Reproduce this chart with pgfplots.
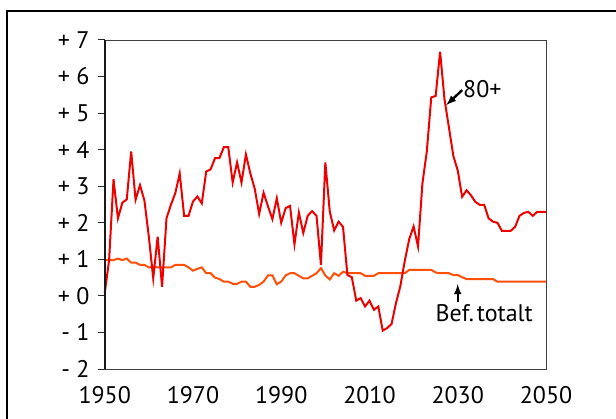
\documentclass[border=0pt]{standalone}
\usepackage{pgfplots}
\pgfplotsset{compat=1.18}
\usepackage{pgfplotstable}
\usepackage{fontspec}
\setmainfont{PT Sans}
\definecolor{redline}{RGB}{236,0,0}
\definecolor{orangeline}{RGB}{255,80,10}

\pgfplotstableread{
year val
1950 0.07
1951 0.98
1952 3.19
1953 2.12
1954 2.55
1955 2.64
1956 3.95
1957 2.63
1958 3.03
1959 2.61
1960 1.62
1961 0.48
1962 1.62
1963 0.25
1964 2.12
1965 2.49
1966 2.81
1967 3.35
1968 2.19
1969 2.19
1970 2.58
1971 2.72
1972 2.53
1973 3.40
1974 3.46
1975 3.77
1976 3.77
1977 4.07
1978 4.07
1979 3.10
1980 3.65
1981 3.10
1982 3.87
1983 3.35
1984 2.93
1985 2.24
1986 2.82
1987 2.45
1988 2.10
1989 2.67
1990 2.00
1991 2.40
1992 2.46
1993 1.41
1994 2.28
1995 1.72
1996 2.19
1997 2.32
1998 2.19
1999 0.85
2000 3.65
2001 2.31
2002 1.79
2003 2.03
2004 1.89
2005 0.57
2006 0.51
2007 -0.13
2008 -0.06
2009 -0.29
2010 -0.13
2011 -0.38
2012 -0.29
2013 -0.95
2014 -0.88
2015 -0.77
2016 -0.20
2017 0.27
2018 0.96
2019 1.55
2020 1.90
2021 1.35
2022 3.08
2023 3.96
2024 5.43
2025 5.47
2026 6.68
2027 5.38
2028 4.61
2029 3.83
2030 3.43
2031 2.71
2032 2.89
2033 2.75
2034 2.57
2035 2.49
2036 2.49
2037 2.12
2038 2.03
2039 2.00
2040 1.78
2041 1.78
2042 1.78
2043 1.89
2044 2.19
2045 2.27
2046 2.30
2047 2.19
2048 2.30
2049 2.30
2050 2.30
}\eighty

\pgfplotstableread{
year val
1950 0.98
1951 0.98
1952 0.98
1953 1.02
1954 0.98
1955 1.02
1956 0.91
1957 0.91
1958 0.85
1959 0.85
1960 0.78
1961 0.80
1962 0.78
1963 0.78
1964 0.78
1965 0.78
1966 0.85
1967 0.85
1968 0.85
1969 0.78
1970 0.69
1971 0.74
1972 0.78
1973 0.62
1974 0.62
1975 0.50
1976 0.46
1977 0.39
1978 0.39
1979 0.33
1980 0.33
1981 0.39
1982 0.39
1983 0.25
1984 0.25
1985 0.30
1986 0.39
1987 0.56
1988 0.56
1989 0.32
1990 0.39
1991 0.56
1992 0.62
1993 0.62
1994 0.55
1995 0.48
1996 0.48
1997 0.55
1998 0.62
1999 0.76
2000 0.56
2001 0.45
2002 0.62
2003 0.55
2004 0.66
2005 0.62
2006 0.62
2007 0.62
2008 0.62
2009 0.55
2010 0.55
2011 0.55
2012 0.62
2013 0.62
2014 0.62
2015 0.62
2016 0.62
2017 0.62
2018 0.62
2019 0.71
2020 0.71
2021 0.71
2022 0.71
2023 0.71
2024 0.71
2025 0.64
2026 0.62
2027 0.62
2028 0.62
2029 0.57
2030 0.57
2031 0.51
2032 0.46
2033 0.46
2034 0.46
2035 0.46
2036 0.46
2037 0.46
2038 0.46
2039 0.39
2040 0.39
2041 0.39
2042 0.39
2043 0.39
2044 0.39
2045 0.39
2046 0.39
2047 0.39
2048 0.39
2049 0.39
2050 0.39
}\befolk

\begin{document}
\begin{tikzpicture}
% page = 616 x 418, axis origin at image px (104.7, 369)
\useasboundingbox (-104.7pt,-49pt) rectangle (511.3pt,369pt);
\draw[line width=2.5pt] (-97.7pt,-80pt) -- (-97.7pt,358pt) -- (560pt,358pt);
\begin{axis}[at={(0pt,0pt)},anchor=south west,scale only axis,
  width=441.3pt,height=329pt,
  xmin=1950,xmax=2050,ymin=-2,ymax=7,
  xtick={1950,1970,1990,2010,2030,2050},
  xticklabels={1950,1970,1990,2010,2030,2050},
  ytick={-2,-1,0,1,2,3,4,5,6,7},
  yticklabels={- 2,- 1,+ 0,+ 1,+ 2,+ 3,+ 4,+ 5,+ 6,+ 7},
  ytick pos=left,tick align=outside,major tick length=7pt,
  xtick style={draw=none},
  ytick style={line width=1pt,black!85},
  axis line style={line width=0.8pt,black!75},
  tick label style={font=\fontsize{24}{28}\selectfont},
  yticklabel style={inner sep=0pt,xshift=-8pt},
  xticklabel style={inner sep=0pt,yshift=-10pt},
  clip=false]
\addplot[orangeline,line width=2pt] table[x=year,y=val] {\befolk};
\addplot[redline,line width=2pt] table[x=year,y=val] {\eighty};
\draw[line width=1.8pt,black!90] (axis cs:1950,-2) -- (axis cs:1950,7);
\draw[-latex,line width=2.4pt] (axis cs:2031.0,5.63) -- (axis cs:2027.4,5.22);
\node[anchor=west,inner sep=0pt,font=\fontsize{24}{28}\selectfont] at (axis cs:2031.2,5.66) {80+};
\draw[-latex,line width=2.4pt] (axis cs:2030,-0.16) -- (axis cs:2030,0.32);
\node[inner sep=0pt,font=\fontsize{24}{28}\selectfont] at (axis cs:2036,-0.47) {Bef.\hspace{0.12em}totalt};
\end{axis}
\end{tikzpicture}
\end{document}
